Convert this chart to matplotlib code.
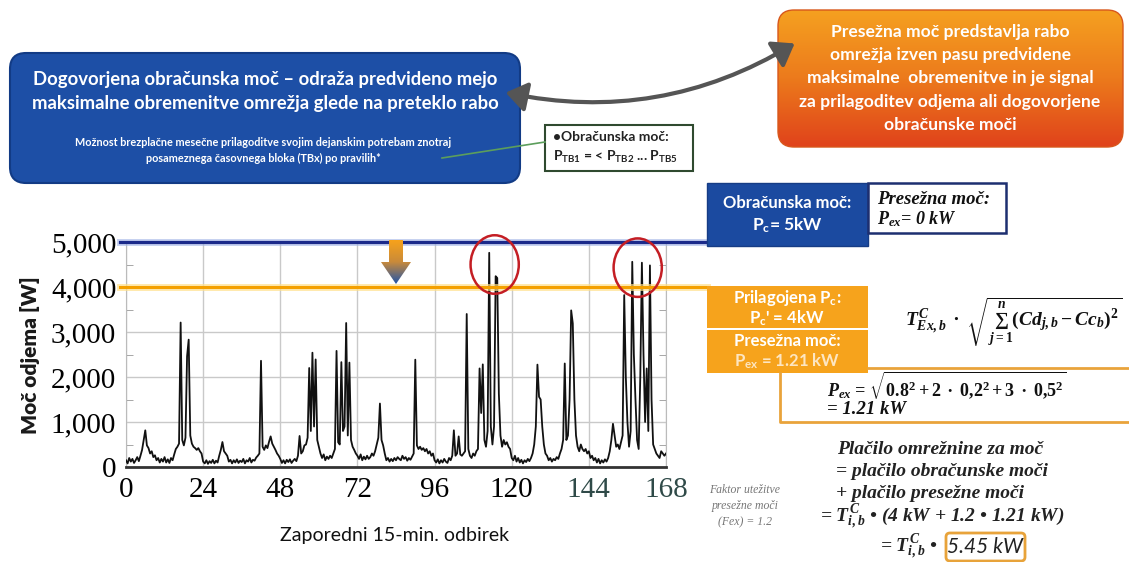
import numpy as np
import matplotlib.pyplot as plt
from matplotlib.patches import FancyBboxPatch, Ellipse, Polygon, FancyArrowPatch
from matplotlib.colors import LinearSegmentedColormap
from matplotlib.ticker import MultipleLocator, FuncFormatter

plt.rcParams['mathtext.fontset'] = 'custom'
plt.rcParams['mathtext.rm'] = 'Liberation Serif:bold'
plt.rcParams['mathtext.it'] = 'Liberation Serif:italic:bold'
plt.rcParams['mathtext.bf'] = 'Liberation Serif:bold'

# 15-min samples, read every half hour (W)
day1 = [150, 80, 200, 120, 180, 90, 150, 220, 130, 250, 380, 600, 815, 480, 420, 300,
        350, 220, 260, 150, 200, 100, 180, 120, 220, 100, 170, 90, 200, 150, 280, 400,
        450, 520, 3210, 600, 480, 650, 2460, 2830, 700, 520, 450, 420, 380, 420, 350, 300]
day2 = [120, 80, 150, 70, 130, 90, 160, 80, 140, 100, 250, 380, 555, 350, 300, 250,
        120, 160, 80, 150, 100, 170, 90, 140, 110, 180, 80, 150, 120, 200, 100, 160,
        140, 210, 250, 300, 2360, 450, 380, 480, 420, 560, 680, 520, 450, 380, 300, 250]
day3 = [180, 90, 150, 80, 160, 110, 170, 90, 140, 180, 130, 250, 690, 300, 350, 480,
        500, 650, 2200, 800, 2540, 900, 2390, 600, 450, 300, 200, 280, 150, 230, 180, 250,
        200, 300, 400, 2580, 550, 500, 2330, 800, 900, 3200, 700, 2320, 600, 450, 380, 300]
day4 = [250, 180, 280, 150, 230, 170, 250, 180, 220, 300, 250, 350, 500, 650, 1410, 600,
        480, 300, 150, 200, 120, 180, 130, 200, 150, 220, 180, 150, 250, 180, 220, 140,
        200, 160, 230, 300, 2385, 480, 400, 450, 380, 420, 350, 400, 300, 350, 250, 300]
day5 = [150, 100, 170, 80, 150, 100, 180, 120, 90, 200, 150, 250, 815, 250, 300, 680,
        280, 250, 300, 350, 3400, 400, 250, 200, 300, 250, 350, 400, 2190, 1200, 2280, 600,
        450, 800, 4760, 900, 500, 900, 4240, 4200, 1630, 700, 450, 600, 500, 550, 450, 400]
day6 = [200, 150, 250, 120, 200, 100, 160, 80, 150, 110, 180, 130, 200, 300, 500, 900,
        2275, 1560, 1500, 900, 500, 300, 250, 150, 200, 120, 180, 150, 220, 180, 300, 400,
        600, 2300, 600, 700, 1500, 3480, 3190, 1500, 700, 450, 350, 500, 400, 350, 400, 300]
day7 = [350, 200, 250, 150, 200, 100, 180, 80, 150, 100, 170, 120, 200, 350, 600, 960,
        700, 450, 500, 400, 550, 700, 3820, 2000, 1000, 450, 800, 4560, 2500, 1500, 600, 400,
        2000, 4540, 2500, 1000, 2190, 800, 4480, 1500, 500, 400, 300, 250, 200, 350, 300, 250]
last_sample = [300]

power_w = day1 + day2 + day3 + day4 + day5 + day6 + day7 + last_sample
hours = np.arange(len(power_w)) * 0.5

x_ticks = [0, 24, 48, 72, 96, 120, 144, 168]
y_ticks = [0, 1000, 2000, 3000, 4000, 5000]
pc_agreed = 5000
pc_adjusted = 4000

W, H = 1129, 562
sans = 'Lato'
serif = 'Liberation Serif'

fig = plt.figure(figsize=(W / 100, H / 100), dpi=100)
fig.patch.set_facecolor('white')

# ---- chart ----
ax = fig.add_axes([126 / W, 1 - 467 / H, 540 / W, 225 / H])
ax.plot(hours, power_w, color='#111111', lw=1.3, zorder=3)
ax.set_xlim(0, 168)
ax.set_ylim(0, 5000)
ax.set_xticks(x_ticks)
ax.set_yticks(y_ticks)
ax.yaxis.set_major_formatter(FuncFormatter(lambda v, p: f'{int(v):,}'))
ax.yaxis.set_minor_locator(MultipleLocator(500))
ax.grid(True, color='#c9c9c9', lw=1)
ax.tick_params(axis='both', which='major', length=0, pad=7)
ax.tick_params(axis='y', which='minor', direction='in', length=5, color='#999999',
               left=True, right=True)
for lab in ax.get_xticklabels() + ax.get_yticklabels():
    lab.set_family(serif)
    lab.set_fontsize(21)
for lab in ax.get_xticklabels()[-2:]:
    lab.set_color('#2f4a48')
ax.spines['top'].set_visible(False)
ax.spines['left'].set_color('#bbbbbb')
ax.spines['right'].set_color('#bbbbbb')
ax.spines['bottom'].set_color('#333333')
ax.spines['bottom'].set_linewidth(2)

x_end = (707 - 126) / 540
ax.axhline(pc_agreed, xmin=-0.012, xmax=x_end, color='#9fb2e6', lw=5, alpha=0.6, clip_on=False, zorder=4)
ax.axhline(pc_agreed, xmin=-0.012, xmax=x_end, color='#1b2a8a', lw=2.3, clip_on=False, zorder=5)
ax.axhline(pc_adjusted, xmin=-0.012, xmax=x_end, color='#ffe08a', lw=5, alpha=0.7, clip_on=False, zorder=4)
ax.axhline(pc_adjusted, xmin=-0.012, xmax=x_end, color='#f4a000', lw=2.2, clip_on=False, zorder=5)

for cx, cy in [(114.7, 4500), (159.2, 4430)]:
    ax.add_patch(Ellipse((cx, cy), 15, 1300, fill=False, ec='#c41e24', lw=1.8,
                         clip_on=False, zorder=6))

fig.text(30 / W, 1 - 355 / H, 'Moč odjema [W]', rotation=90, ha='center', va='center',
         fontsize=15, weight='heavy', family=sans, color='#1a1a1a')
fig.text(395 / W, 1 - 535 / H, 'Zaporedni 15-min. odbirek', ha='center', va='center',
         fontsize=14, family=sans, color='#111111')

# ---- overlay in pixel coordinates ----
ov = fig.add_axes([0, 0, 1, 1], zorder=5)
ov.set_xlim(0, W)
ov.set_ylim(H, 0)
ov.axis('off')


def box(x0, y0, x1, y1, fc, ec='none', lw=1, r=0, z=3):
    style = f'round,pad=0,rounding_size={r}' if r else 'square,pad=0'
    p = FancyBboxPatch((x0, y0), x1 - x0, y1 - y0, boxstyle=style, fc=fc, ec=ec, lw=lw, zorder=z)
    ov.add_patch(p)
    return p


def gradient(patch, colors, x0, y0, x1, y1, z):
    cmap = LinearSegmentedColormap.from_list('g', colors)
    im = ov.imshow(np.linspace(0, 1, 64).reshape(-1, 1), extent=(x0, x1, y1, y0), cmap=cmap,
                   aspect='auto', zorder=z, interpolation='bicubic')
    im.set_clip_path(patch)


def txt(x, y, s, size, color='white', weight='bold', ha='center', family=sans, style='normal'):
    ov.text(x, y, s, fontsize=size, color=color, weight=weight, ha=ha, va='center',
            family=family, style=style, zorder=10)


# top blue box
box(10, 53, 520, 183, fc='#1d4fa6', ec='#123b85', lw=1.5, r=16)
txt(265, 80, 'Dogovorjena obračunska moč – odraža predvideno mejo', 13.3)
txt(265, 103, 'maksimalne obremenitve omrežja glede na preteklo rabo', 13.3)
txt(263, 142, 'Možnost brezplačne mesečne prilagoditve svojim dejanskim potrebam znotraj', 7.8)
txt(263, 158, 'posameznega časovnega bloka (TBx) po pravilih*', 7.8)

# curved arrow between top boxes
ov.add_patch(FancyArrowPatch((503, 92), (797, 42), arrowstyle='<|-|>,head_length=0.7,head_width=0.5',
                             mutation_scale=18, connectionstyle='arc3,rad=0.2',
                             color='#555555', lw=3, zorder=6))

# top orange box
p = box(778, 10, 1123, 147, fc='none', ec='#d8571c', lw=1, r=16, z=4)
gradient(p, ['#f5a020', '#ec7a1c', '#e0431b'], 778, 10, 1123, 147, 3)
for yy, line in zip([32, 55, 78, 102, 125],
                    ['Presežna moč predstavlja rabo', 'omrežja izven pasu predvidene',
                     'maksimalne  obremenitve in je signal', 'za prilagoditev odjema ali dogovorjene',
                     'obračunske moči']):
    txt(950, yy, line, 12.6)

# small rule box
box(545, 125, 693, 171, fc='white', ec='#2f4a2f', lw=1.5)
ov.plot([442, 545], [158, 142], color='#5c9e5c', lw=1.2, zorder=4)
txt(553, 137, '•Obračunska moč:', 10, color='#222222', ha='left')
txt(553, 157, r'P$_\mathregular{TB1}$ = < P$_\mathregular{TB2}$ ... P$_\mathregular{TB5}$', 10,
    color='#222222', ha='left')

# down arrow (gradient)
arrow = Polygon([(389, 240), (403, 240), (403, 262), (411, 262), (396, 284), (381, 262), (389, 262)],
                closed=True, fc='none', ec='none', zorder=4)
ov.add_patch(arrow)
gradient(arrow, ['#f7a21b', '#c98a3a', '#2254a8'], 381, 240, 411, 284, 4)

# right side labels
box(707, 183, 868, 246, fc='#1b4aa0', ec='#163c85', lw=1)
txt(787, 203, 'Obračunska moč:', 12)
txt(787, 225, r'P$_\mathregular{c}$= 5kW', 12.5)
box(868, 183, 1006, 233, fc='white', ec='#1d2f70', lw=1.8)
txt(877, 199, 'Presežna moč:', 13.5, color='#111111', ha='left', family=serif, style='italic')
txt(877, 219, r'P$_\mathregular{ex}$= 0 kW', 13, color='#111111', ha='left', family=serif, style='italic')

box(707, 286, 868, 328, fc='#f6a31c')
box(707, 330, 868, 373, fc='#f6a31c')
txt(787, 298, r'Prilagojena P$_\mathregular{c}$:', 12)
txt(787, 318, r"P$_\mathregular{c}$' = 4kW", 12)
txt(787, 341, 'Presežna moč:', 12)
txt(787, 361, r'P$_\mathregular{ex}$ = 1.21 kW', 12, color='#fde6c2')

ov.plot([868, 1129], [368, 368], color='#e9a33b', lw=2, zorder=3)
ov.plot([780, 780, 1129], [373, 422, 422], color='#e9a33b', lw=2, zorder=3)

txt(905, 322, r'$T^{C}_{Ex,b}\ \bullet\ \sqrt{\sum_{j=1}^{n}(Cd_{j,b}-Cc_b)^2}$', 14,
    color='#111111', ha='left', family=serif, style='italic')
txt(827, 386, r'$P_{ex}$ = $\sqrt{0.8^2+2\ \bullet\ 0{,}2^2+3\ \bullet\ 0{,}5^2}$', 13,
    color='#111111', ha='left', family=serif, style='italic')
txt(827, 410, '= 1.21 kW', 13.5, color='#111111', ha='left', family=serif, style='italic')

txt(837, 450, 'Plačilo omrežnine za moč', 14, color='#222222', ha='left', family=serif, style='italic')
txt(836, 472, '= plačilo obračunske moči', 14, color='#222222', ha='left', family=serif, style='italic')
txt(836, 494, '+ plačilo presežne moči', 14, color='#222222', ha='left', family=serif, style='italic')
txt(820, 517, r'= $T^{C}_{i,b}$ • (4 kW + 1.2 • 1.21 kW)', 14, color='#222222', ha='left',
    family=serif, style='italic')
txt(880, 547, r'= $T^{C}_{i,b}$ •', 14, color='#222222', ha='left', family=serif, style='italic')
box(946, 533, 1025, 561, fc='white', ec='#e8a33a', lw=2, r=4)
txt(985, 547, '5.45 kW', 15, color='#222222', weight='normal', family=sans, style='italic')

for yy, line in zip([490, 506, 522], ['Faktor utežitve', 'presežne moči', '(Fex) = 1.2']):
    txt(745, yy, line, 8.5, color='#777777', weight='normal', family=serif, style='italic')

ov.set_xlim(0, W)
ov.set_ylim(H, 0)

fig.savefig('out.png', dpi=100)
